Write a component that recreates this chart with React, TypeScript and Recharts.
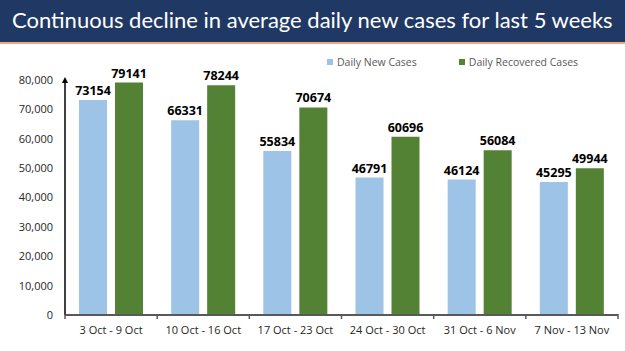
import { BarChart, Bar, XAxis, YAxis, LabelList } from 'recharts';

const weeks = ['3 Oct - 9 Oct', '10 Oct - 16 Oct', '17 Oct - 23 Oct', '24 Oct - 30 Oct', '31 Oct - 6 Nov', '7 Nov - 13 Nov'];
const newCases = [73154, 66331, 55834, 46791, 46124, 45295];
const recoveredCases = [79141, 78244, 70674, 60696, 56084, 49944];
const yTicks = [0, 10000, 20000, 30000, 40000, 50000, 60000, 70000, 80000];

const data = weeks.map((w, i) => ({ week: w, newCases: newCases[i], recovered: recoveredCases[i] }));

const BLUE = '#9dc3e6';
const GREEN = '#548235';
const FONT = 'Open Sans, sans-serif';

const BAND = (618 - 65) / weeks.length;

const XTick = ({ x, y, payload, index }: any) => (
    <g>
        <line x1={x - BAND / 2} y1={y - 9} x2={x - BAND / 2} y2={y - 4} stroke="#595959" strokeWidth={1.5} />
        {index === weeks.length - 1 && (
            <line x1={x + BAND / 2} y1={y - 9} x2={x + BAND / 2} y2={y - 4} stroke="#595959" strokeWidth={1.5} />
        )}
        <text x={x} y={y + 11} textAnchor="middle" fontSize={11} fill="#262626" fontFamily={FONT}>
            {payload.value}
        </text>
    </g>
);

const LegendBox = () => (
    <div style={{ position: 'absolute', top: 55, left: 327, display: 'flex', gap: 42, fontFamily: FONT, fontSize: 10.5, color: '#595959' }}>
        <div style={{ display: 'flex', alignItems: 'center', gap: 4 }}>
            <div style={{ width: 6, height: 6, background: BLUE }} />
            <span>Daily New Cases</span>
        </div>
        <div style={{ display: 'flex', alignItems: 'center', gap: 4 }}>
            <div style={{ width: 6, height: 6, background: GREEN }} />
            <span>Daily Recovered Cases</span>
        </div>
    </div>
);

export default function App() {
    return (
        <div style={{ position: 'relative', width: 625, height: 351, background: '#fff', overflow: 'hidden' }}>
            <style>{'body{margin:0}'}</style>
            <div style={{
                position: 'absolute', top: 0, left: 0, width: 613, height: 42, background: '#203864',
                borderBottom: '2px solid #f4a582', color: '#fff', fontFamily: 'Lato, sans-serif', fontSize: 22,
                lineHeight: '40px', paddingLeft: 12, whiteSpace: 'nowrap', overflow: 'hidden',
            }}>
                Continuous decline in average daily new cases for last 5 weeks
            </div>
            <LegendBox />
            <div style={{ position: 'absolute', top: 0, left: 0 }}>
                <BarChart width={625} height={351} data={data} margin={{ top: 80, right: 7, bottom: 6, left: 0 }} barGap={8} barSize={28}>
                    <defs>
                        <marker id="arrow" markerWidth="6" markerHeight="6" refX="3" refY="3" orient="0" markerUnits="userSpaceOnUse">
                            <path d="M0,6 L3,0 L6,6 Z" fill="#000" />
                        </marker>
                    </defs>
                    <XAxis dataKey="week" height={30} tickLine={false} axisLine={{ stroke: '#595959', strokeWidth: 2 }} tick={<XTick />} interval={0} />
                    <YAxis
                        domain={[0, 80000]}
                        ticks={yTicks}
                        width={65}
                        tickLine={false}
                        axisLine={{ stroke: '#000', strokeWidth: 1.5, markerStart: 'url(#arrow)' } as any}
                        tickFormatter={(v: number) => v.toLocaleString('en-US')}
                        tick={{ fontSize: 11, fill: '#262626', fontFamily: FONT }}
                        tickMargin={6}
                    />
                    <Bar dataKey="newCases" fill={BLUE} isAnimationActive={false}>
                        <LabelList dataKey="newCases" position="top" offset={5} fill="#000" fontSize={12.5} fontWeight="bold" fontFamily={FONT} />
                    </Bar>
                    <Bar dataKey="recovered" fill={GREEN} isAnimationActive={false}>
                        <LabelList dataKey="recovered" position="top" offset={5} fill="#000" fontSize={12.5} fontWeight="bold" fontFamily={FONT} />
                    </Bar>
                </BarChart>
            </div>
        </div>
    );
}
